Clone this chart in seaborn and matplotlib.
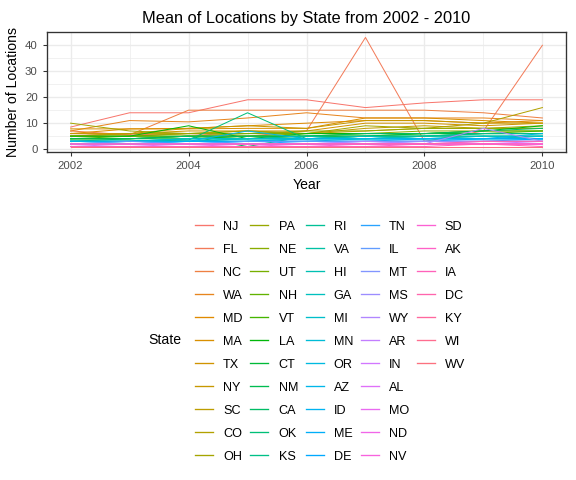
import numpy as np
import pandas as pd
import matplotlib
matplotlib.use("Agg")
import matplotlib.pyplot as plt
from matplotlib.lines import Line2D
from matplotlib.ticker import MultipleLocator
import seaborn as sns

years = [2002, 2003, 2004, 2005, 2006, 2007, 2008, 2009, 2010]

states = ["NJ", "FL", "NC", "WA", "MD", "MA", "TX", "NY", "SC", "CO", "OH",
          "PA", "NE", "UT", "NH", "VT", "LA", "CT", "NM", "CA", "OK", "KS",
          "RI", "VA", "HI", "GA", "MI", "MN", "OR", "AZ", "ID", "ME", "DE",
          "TN", "IL", "MT", "MS", "WY", "AR", "IN", "AL", "MO", "ND", "NV",
          "SD", "AK", "IA", "DC", "KY", "WI", "WV"]

NJ = [8.5, 14, 14, 19, 19, 16, 17.8, 19, 19]
FL = [6, 5.5, 6, 5, 7, 43, 3, 7, 40]
NC = [7, 5.5, 15, 15, 15, 15, 15, 14, 12]
WA = [7, 11, 10.5, 12, 14, 12, 12, 12, 11]
MD = [6, 7.8, 8, 9, 10, 11, 11, 10, 11]
MA = [7.8, 7.8, 7.8, 8, 8, 12, 12, 11, 10]
TX = [5, 6, 7, 7, 7, 10, 10, 9, 10]
NY = [6, 6, 8, 9, 8, 11, 11, 10, 10]
SC = [5, 5, 6, 7, 6, 8, 9, 8, 8]
CO = [5, 6, 6, 6, 6, 7, 8, 10, 16]
OH = [10, 7, 6, 7, 6, 9, 8, 8, 9]
PA = [5, 5, 6, 6, 7, 7, 8, 8, 8]
NE = [4, 4, 5, 5, 6, 6, 7, 7, 7]
UT = [5, 5, 5, 6, 6, 6, 6, 7, 7]
NH = [4, 4, 5, 5, 5, 6, 6, 6, 6]
VT = [4, 5, 5, 4, 5, 5, 6, 6, 7]
LA = [5, 5, 9, 4, 6, 6, 6, 7, 9]
CT = [4, 4, 4, 5, 5, 5, 6, 6, 6]
NM = [4, 4, 5, 1, 5, 5, 5, 6, 6]
CA = [3, 4, 5, 5, 5, 6, 6, 7, 8]
OK = [3, 3, 3.5, 14, 4, 5, 5, 6, 6]
KS = [3, 3, 4, 4, 4, 5, 5, 6, 6]
RI = [3, 3, 3, 4, 4, 4, 5, 5, 5]
VA = [3, 3, 4, 4, 5, 4, 5, 5, 5]
HI = [3, 3, 3, 3, 4, 4, 4, 5, 5]
GA = [3, 3, 3, 4, 4, 5, 4, 5, 4]
MI = [3, 3, 3, 3, 3, 4, 4, 4, 5]
MN = [3, 3, 4, 4, 4, 4, 4, 4, 4]
OR = [2, 3, 3, 3, 4, 4, 4, 4, 4]
AZ = [3, 3, 3, 7, 4, 4, 4, 4, 6]
ID = [2, 2, 3, 3, 3, 3, 4, 4, 4]
ME = [2, 2, 3, 3, 3, 3, 3, 4, 4]
DE = [2, 2, 2, 3, 3, 3, 3, 3, 4]
TN = [2, 2, 2, 2, 3, 3, 3, 3, 3]
IL = [2, 3, 2, 3, 3, 3, 3, 3, 3]
MT = [2, 2, 2, 2, 2, 3, 3, 3, 3]
MS = [2, 2, 2, 2, 2, 2, 3, 3, 3]
WY = [2, 2, 2, 2, 2, 3, 2, 8, 3]
AR = [2, 2, 2, 2, 2, 2, 2, 3, 3]
IN = [1, 2, 2, 2, 2, 2, 2, 2, 3]
AL = [1, 1, 2, 2, 2, 2, 2, 2, 2]
MO = [2, 2, 2, 2, 2, 2, 2, 2, 2]
ND = [1, 1, 1, 2, 2, 2, 2, 2, 2]
NV = [1, 1, 1, 1, 2, 2, 2, 2, 2]
SD = [1, 1, 1, 1, 1, 2, 2, 2, 2]
AK = [1, 1, 1, 1, 1, 1, 2, 2, 2]
IA = [1, 1, 1, 1, 1, 1, 1, 2, 1]
DC = [2, 2, 2, 2, 2, 2, 2, 3, 3]
KY = [1, 1, 1, 1, 1, 1, 1, 1, 1]
WI = [1, 1, 1, 1, 1, 1, 1, 1, 1]
WV = [1, 1, 1, 1, 1, 1, 1, 1, 1]

series = [NJ, FL, NC, WA, MD, MA, TX, NY, SC, CO, OH, PA, NE, UT, NH, VT, LA,
          CT, NM, CA, OK, KS, RI, VA, HI, GA, MI, MN, OR, AZ, ID, ME, DE, TN,
          IL, MT, MS, WY, AR, IN, AL, MO, ND, NV, SD, AK, IA, DC, KY, WI, WV]

rows = []
for st, vals in zip(states, series):
    for y, v in zip(years, vals):
        rows.append({"Year": y, "Locations": v, "State": st})
df = pd.DataFrame(rows)


def hue_pal(n, h0=15, h1=375, c=100, l=65):
    hs = np.linspace(h0, h1, n + 1)[:-1]
    Xn, Yn, Zn = 95.047, 100.0, 108.883
    un = 4 * Xn / (Xn + 15 * Yn + 3 * Zn)
    vn = 9 * Yn / (Xn + 15 * Yn + 3 * Zn)
    Y = Yn * ((l + 16) / 116) ** 3
    out = []
    M = np.array([[3.2404542, -1.5371385, -0.4985314],
                  [-0.9692660, 1.8760108, 0.0415560],
                  [0.0556434, -0.2040259, 1.0572252]])
    for h in hs:
        u = c * np.cos(np.radians(h))
        v = c * np.sin(np.radians(h))
        up = u / (13 * l) + un
        vp = v / (13 * l) + vn
        X = Y * 9 * up / (4 * vp)
        Z = Y * (12 - 3 * up - 20 * vp) / (4 * vp)
        rgb = M @ (np.array([X, Y, Z]) / 100)
        rgb = np.where(rgb <= 0.0031308, 12.92 * rgb,
                       1.055 * np.clip(rgb, 0, None) ** (1 / 2.4) - 0.055)
        out.append(tuple(np.clip(rgb, 0, 1)))
    return out


colors = hue_pal(len(states))

plt.rcParams["font.family"] = ["Liberation Sans", "DejaVu Sans"]
fig = plt.figure(figsize=(6, 5), dpi=96)
ax = fig.add_axes([47 / 576, 1 - 152 / 480, (566 - 47) / 576, 120 / 480])

sns.lineplot(data=df, x="Year", y="Locations", hue="State", hue_order=states,
             palette=colors, linewidth=0.75, legend=False, ax=ax, sort=False,
             estimator=None)

ax.set_xlim(2001.6, 2010.4)
ax.set_ylim(-1.1, 45.1)
ax.xaxis.set_major_locator(MultipleLocator(2))
ax.xaxis.set_minor_locator(MultipleLocator(1))
ax.yaxis.set_major_locator(MultipleLocator(10))
ax.yaxis.set_minor_locator(MultipleLocator(5))
ax.grid(which="major", color="#EBEBEB", linewidth=1.0)
ax.grid(which="minor", color="#EBEBEB", linewidth=0.5)
ax.set_axisbelow(True)
ax.set_facecolor("white")
for sp in ax.spines.values():
    sp.set_color("#333333")
    sp.set_linewidth(1.0)
ax.tick_params(which="major", length=3, color="#333333", labelcolor="#4D4D4D",
               labelsize=8.5, width=0.8, pad=4)
ax.tick_params(which="minor", length=0)
ax.set_xlabel("Year", fontsize=10.5, color="black", labelpad=5)
ax.set_ylabel("Number of Locations", fontsize=10.5, color="black", labelpad=4)
ax.set_title("Mean of Locations by State from 2002 - 2010", fontsize=12.3,
             color="black", pad=7)

handles = [Line2D([], [], color=c, linewidth=0.75) for c in colors]
labels = list(states)
for _ in range(4):
    handles.append(Line2D([], [], color="none"))
    labels.append("")

leg = fig.legend(handles, labels, ncol=5, loc="upper left",
                 bbox_to_anchor=(195 / 576, 1 - 220.5 / 480), frameon=False,
                 fontsize=9.5, handlelength=1.42, handletextpad=0.8,
                 columnspacing=0.6, labelspacing=0.87, borderaxespad=0,
                 borderpad=0)
for ln in leg.get_lines():
    ln.set_snap(True)
    ln.set_linewidth(1.0)
fig.text(165 / 576, 1 - 340 / 480, "State", fontsize=10.5, ha="center",
         va="center")

fig.savefig("out.png", dpi=96)
